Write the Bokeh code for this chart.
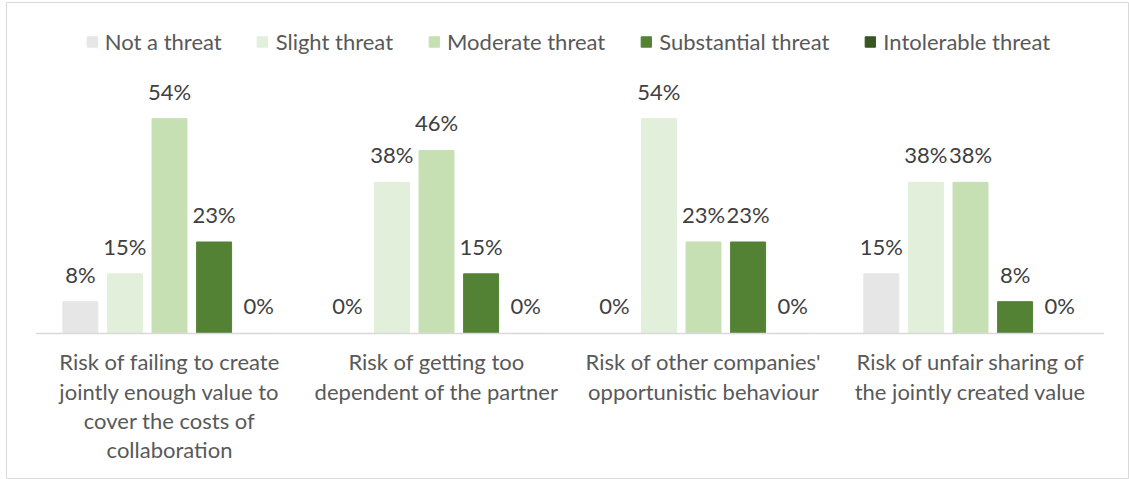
from bokeh.plotting import figure
from bokeh.models import ColumnDataSource, LabelSet, Legend, LegendItem, Range1d
from bokeh.core.properties import value
from bokeh.embed import file_html
from bokeh.resources import INLINE

categories = [
    "Risk of failing to create\njointly enough value to\ncover the costs of\ncollaboration",
    "Risk of getting too\ndependent of the partner",
    "Risk of other companies'\nopportunistic behaviour",
    "Risk of unfair sharing of\nthe jointly created value",
]
series = ["Not a threat", "Slight threat", "Moderate threat", "Substantial threat", "Intolerable threat"]
not_a_threat = [8, 0, 0, 15]
slight_threat = [15, 38, 54, 38]
moderate_threat = [54, 46, 23, 38]
substantial_threat = [23, 15, 23, 8]
intolerable_threat = [0, 0, 0, 0]
values_by_series = [not_a_threat, slight_threat, moderate_threat, substantial_threat, intolerable_threat]
colors = ["#E7E6E6", "#E2EFDA", "#C6E0B4", "#548235", "#375623"]

FONT = "Lato"
TEXT_COLOR = "#595959"
LABEL_COLOR = "#404040"

p = figure(width=1129, height=479,
           x_range=Range1d(-0.6105, 3.5955), y_range=Range1d(-36.7, 83.2),
           x_axis_location=None, y_axis_location=None,
           min_border_left=6, min_border_top=2, min_border_right=0, min_border_bottom=0,
           toolbar_location=None, output_backend="svg")
p.grid.visible = False
p.outline_line_color = "#D9D9D9"
p.outline_line_width = 1
p.background_fill_color = "white"
p.border_fill_color = "white"

n_series = len(series)
step = 0.167
bar_w = 0.131
idx = list(range(len(categories)))

items = []
for k, (name, vals, col) in enumerate(zip(series, values_by_series, colors)):
    off = (k - (n_series - 1) / 2) * step
    src = ColumnDataSource(dict(
        x=[i + off for i in idx],
        top=vals,
        label=[f"{v}%" for v in vals],
    ))
    r = p.vbar(x="x", top="top", bottom=0, width=bar_w, source=src,
               fill_color=col, line_color=col)
    items.append(LegendItem(label=name, renderers=[r]))
    labels = LabelSet(x="x", y="top", text="label", source=src,
                      text_align="center", text_baseline="alphabetic", y_offset=19,
                      text_font=value(FONT), text_font_size="22px", text_color=LABEL_COLOR)
    p.add_layout(labels)

# category axis line
p.segment(x0=[-0.5], x1=[len(categories) - 0.5], y0=[0], y1=[0],
          line_color="#D9D9D9", line_width=1.5)

# category labels
cat_src = ColumnDataSource(dict(x=idx, y=[0] * len(idx), text=categories))
p.text(x="x", y="y", text="text", source=cat_src, text_align="center", text_baseline="top",
       y_offset=15, text_font=value(FONT), text_font_size="22px", text_color=TEXT_COLOR,
       text_line_height=1.08)

legend = Legend(items=items, location="top_center", orientation="horizontal",
                glyph_width=13, glyph_height=13, label_standoff=7, spacing=34,
                padding=0, margin=26, border_line_color=None, background_fill_alpha=0,
                label_text_font=FONT, label_text_font_size="22px", label_text_color=TEXT_COLOR)
p.add_layout(legend)

open("out.html", "w").write(file_html(p, INLINE))
